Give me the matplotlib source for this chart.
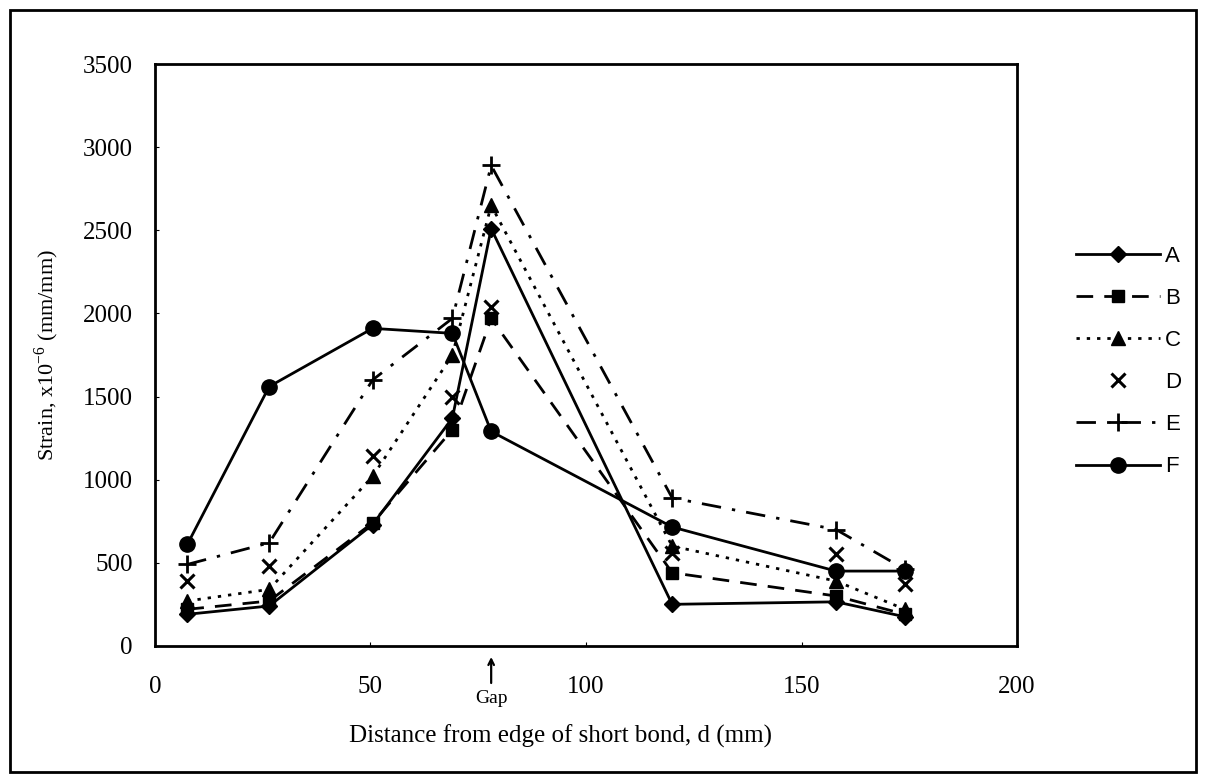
import numpy as np
import matplotlib
matplotlib.use('Agg')
import matplotlib.pyplot as plt
from matplotlib.lines import Line2D
from matplotlib.patches import Rectangle

# positions along the bond (mm)
dist = [7.5, 26.5, 50.5, 69, 78, 120, 158, 174]

# strain values x10^-6
strain_A = [190, 240, 730, 1370, 2510, 250, 265, 175]
strain_B = [220, 270, 740, 1300, 1970, 440, 300, 190]
strain_C = [270, 340, 1020, 1750, 2650, 600, 390, 220]
strain_D = [390, 480, 1140, 1500, 2040, 560, 550, 370]
strain_E = [490, 620, 1600, 1970, 2890, 890, 700, 460]
strain_F = [610, 1560, 1910, 1880, 1290, 715, 450, 450]

names = ['A', 'B', 'C', 'D', 'E', 'F']
all_strain = [strain_A, strain_B, strain_C, strain_D, strain_E, strain_F]

styles = [
    dict(ls='-', marker='D', ms=8),
    dict(ls=(0, (6, 4)), marker='s', ms=9),
    dict(ls=(0, (1.2, 2.5)), marker='^', ms=10),
    dict(ls='none', marker='x', ms=10, mew=2.2),
    dict(ls=(0, (7, 4, 1.2, 4)), marker='+', ms=13, mew=2),
    dict(ls='-', marker='o', ms=11),
]

fig = plt.figure(figsize=(12.06, 7.81), dpi=100)
ax = fig.add_axes([0.1285, 0.173, 0.7148, 0.745])

for s, st in zip(all_strain, styles):
    ax.plot(dist, s, color='black', lw=2, **st)

ax.set_xlim(0, 200)
ax.set_ylim(0, 3500)
ax.set_xticks([0, 50, 100, 150, 200])
ax.set_yticks(np.arange(0, 3501, 500))

serif = 'Liberation Serif'
for lab in ax.get_xticklabels() + ax.get_yticklabels():
    lab.set_family(serif)
    lab.set_fontsize(18)
ax.tick_params(axis='x', direction='in', length=3, pad=22)
ax.tick_params(axis='y', direction='in', length=3, pad=16)
for sp in ax.spines.values():
    sp.set_linewidth(2)

ax.set_xlabel('Distance from edge of short bond, d (mm)', family=serif, fontsize=18)
ax.xaxis.set_label_coords(0.47, -0.135)
ax.set_ylabel(r'Strain, x10$^{\mathregular{-6}}$ (mm/mm)', family=serif, fontsize=16, labelpad=16)

# gap marker under the axis
ax.annotate('', xy=(78, -50), xytext=(78, -240), xycoords='data',
            arrowprops=dict(arrowstyle='->', lw=1.6, color='black'),
            annotation_clip=False)
ax.text(78, -265, 'Gap', family=serif, fontsize=14, ha='center', va='top')

# legend outside on the right
handles = []
for n, st in zip(names, styles):
    handles.append(Line2D([], [], color='black', lw=2, **st))
leg = ax.legend(handles, names, loc='upper left', bbox_to_anchor=(1.045, 0.722),
                frameon=False, handlelength=3.8, handletextpad=0.2,
                labelspacing=0.95, prop={'family': 'Liberation Sans', 'size': 16})

# border around the whole picture
fig.patches.append(Rectangle((0.008, 0.012), 0.984, 0.975, transform=fig.transFigure,
                             fill=False, lw=2, color='black'))

fig.savefig('out.png', dpi=100)
